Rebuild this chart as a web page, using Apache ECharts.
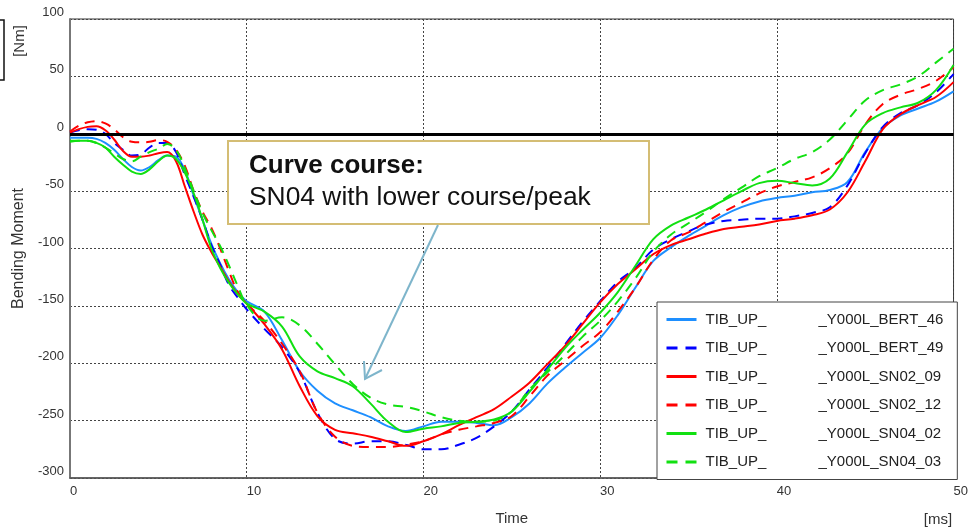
<!DOCTYPE html>
<html><head><meta charset="utf-8">
<script src="https://cdn.jsdelivr.net/npm/echarts/dist/echarts.min.js"></script>
<style>html,body{margin:0;padding:0;background:#fff}#c{width:971px;height:531px}</style>
</head><body><div id="c"></div>
<script>
// time axis [ms]
const times = [0,0.5,1,1.5,2,2.5,3,3.5,4,4.5,5,5.5,6,6.5,7,7.5,8,8.5,9,9.5,10,
  11,12,13,14,15,16,17,18,19,20,21,22,23,24,25,26,27,28,29,30,
  31,32,33,34,35,36,37,38,39,40,41,42,43,44,45,46,47,48,49,50];

const namePrefix = 'TIB_UP_';
const nameSuffixes = ['_Y000L_BERT_46','_Y000L_BERT_49','_Y000L_SN02_09','_Y000L_SN02_12','_Y000L_SN04_02','_Y000L_SN04_03'];

const bert46 = [-3.5,-3.5,-3.5,-4.5,-8,-14,-22,-29,-32,-29,-23,-19,-20,-32,-54,-75,-96,-113,-127,-138,-146,
  -155,-180,-207,-224,-235,-241,-247,-255,-259,-255,-251,-251,-252,-254,-247,-235,-218,-204,-191,-178,
  -158,-134,-111,-99,-89,-80,-71,-64,-59,-56,-54,-51,-49,-42,-16,5,16,22,28,37];
const bert49 = [1,3,4,3.5,0,-8,-14,-19,-18,-12,-8,-8,-16,-36,-55,-75,-97,-114,-132,-143,-153,
  -170,-186,-208,-243,-266,-270,-268,-268,-271,-275,-275,-271,-265,-255,-242,-223,-204,-184,-164,-146,
  -129,-117,-101,-92,-85,-79,-76,-75,-74,-74,-72,-69,-64,-45,-17,6,18,25,36,52];
const sn02_09 = [1,4,6,6.5,3,-5,-15,-20,-20,-19,-17,-16,-24,-46,-68,-88,-103,-116,-129,-140,-148,
  -166,-188,-220,-246,-258,-261,-264,-268,-272,-268,-262,-254,-247,-240,-229,-217,-201,-185,-166,-147,
  -131,-118,-105,-97,-92,-87,-83,-81,-79,-76,-74,-71,-66,-51,-24,4,17,25,32,45];
const sn02_12 = [2,7,10,11,9,4,-3,-7,-7.5,-7,-5.5,-7,-14,-28,-50,-68,-82,-100,-120,-138,-148,
  -163,-183,-207,-243,-264,-272,-273,-273,-271,-268,-262,-258,-255,-252,-246,-229,-211,-198,-185,-173,
  -155,-134,-110,-93,-86,-77,-68,-60,-52,-46,-42,-38,-30,-17,8,26,34,39,46,58];
const sn04_02 = [-6,-6,-6,-8,-12,-20,-27,-33,-35,-31,-24,-19,-22,-34,-52,-75,-100,-117,-130,-140,-148,
  -155,-168,-194,-207,-213,-220,-235,-251,-260,-257,-255,-252,-251,-249,-242,-225,-206,-187,-171,-156,
  -138,-115,-92,-80,-73,-66,-58,-50,-43,-41,-43,-45,-39,-16,8,18,23,27,38,60];
const sn04_03 = [-7,-6,-6,-8,-12,-17,-22,-24,-20,-16,-13,-9,-14,-30,-50,-69,-84,-98,-115,-133,-149,
  -163,-160,-167,-183,-201,-218,-230,-236,-238,-242,-247,-250,-251,-250,-242,-223,-208,-193,-177,-163,
  -146,-126,-103,-88,-78,-68,-57,-47,-37,-30,-22,-16,-5,12,29,38,43,50,62,74];

const seriesValues = [bert46, bert49, sn02_09, sn02_12, sn04_02, sn04_03];
const seriesColors = ['#1e8fff','#0000ff','#ff0000','#ff0000','#11e011','#11e011'];
const seriesDashed = [false, true, false, true, false, true];

const FONT = '"Liberation Sans", Arial, Helvetica, sans-serif';
const chart = echarts.init(document.getElementById('c'), null, {renderer:'canvas'});

const series = seriesValues.map((vals, k) => {
  const s = {
    name: namePrefix + nameSuffixes[k],
    type: 'line',
    data: times.map((t, i) => [t, vals[i]]),
    smooth: 0.35,
    symbol: 'none',
    showSymbol: false,
    z: 3,
    lineStyle: {color: seriesColors[k], width: 2, type: seriesDashed[k] ? [10, 7] : 'solid'},
    itemStyle: {color: seriesColors[k]}
  };
  if (k === 0) {
    s.markLine = {silent: true, symbol: ['none','none'], label: {show: false},
      lineStyle: {color: '#000', width: 3, type: 'solid'}, data: [{yAxis: 0}], animation: false};
  }
  return s;
});

const legendData = nameSuffixes.map((suf, k) => ({
  name: namePrefix + suf,
  lineStyle: {width: 3, type: seriesDashed[k] ? [11, 8] : 'solid'}
}));

const gridLine = {show: true, lineStyle: {color: '#444', type: [2, 2], width: 1}};

chart.setOption({
  animation: false,
  backgroundColor: '#fff',
  grid: {left: 70, right: 12, top: 19, bottom: 52, show: true, borderColor: '#333', borderWidth: 1},
  xAxis: {
    type: 'value', min: 0, max: 50, interval: 10,
    axisLine: {show: true, onZero: false, lineStyle: {color: '#555', width: 1.5}},
    axisTick: {show: false},
    axisLabel: {color: '#333', fontSize: 13, fontFamily: FONT, align: 'left', margin: 7},
    splitLine: gridLine,
    name: 'Time', nameLocation: 'middle', nameGap: 33,
    nameTextStyle: {color: '#333', fontSize: 15, fontFamily: FONT}
  },
  yAxis: {
    type: 'value', min: -300, max: 100, interval: 50,
    axisLine: {show: true, onZero: false, lineStyle: {color: '#777', width: 2}},
    axisTick: {show: false},
    axisLabel: {color: '#333', fontSize: 13, fontFamily: FONT, verticalAlign: 'bottom', margin: 6, lineHeight: 13},
    splitLine: gridLine,
    name: 'Bending Moment', nameLocation: 'middle', nameGap: 39, nameRotate: 90,
    nameTextStyle: {color: '#333', fontSize: 16, fontFamily: FONT}
  },
  legend: {
    data: legendData,
    left: 657, top: 302, orient: 'vertical', z: 20,
    backgroundColor: '#fff', borderColor: '#444', borderWidth: 1,
    padding: [10, 14, 10, 8],
    itemWidth: 30, itemHeight: 14, itemGap: 13.5,
    selectedMode: false,
    itemStyle: {opacity: 0, borderWidth: 0},
    lineStyle: {width: 3},
    formatter: function (name) {
      return '{a|' + namePrefix + '}{b|' + name.slice(namePrefix.length) + '}';
    },
    textStyle: {
      fontFamily: FONT, fontSize: 15, color: '#222', lineHeight: 14,
      rich: {
        a: {fontFamily: FONT, fontSize: 15, color: '#222', width: 113, lineHeight: 14, padding: [0, 0, 0, 4]},
        b: {fontFamily: FONT, fontSize: 15, color: '#222', lineHeight: 14}
      }
    }
  },
  graphic: [
    {type: 'rect', z: 50, shape: {x: -10, y: 20, width: 14, height: 60}, style: {fill: 'none', stroke: '#111', lineWidth: 1.5}},
    {type: 'text', z: 50, x: 20, y: 41, rotation: Math.PI / 2,
      style: {text: '[Nm]', font: '15px ' + FONT, fill: '#333', textAlign: 'center', textVerticalAlign: 'middle'}},
    {type: 'text', z: 50, x: 938, y: 520,
      style: {text: '[ms]', font: '15px ' + FONT, fill: '#333', textAlign: 'center', textVerticalAlign: 'middle'}},
    {type: 'rect', z: 60, shape: {x: 228, y: 141, width: 421, height: 83}, style: {fill: '#fff', stroke: '#d4bd74', lineWidth: 2}},
    {type: 'text', z: 61, x: 249, y: 166,
      style: {text: 'Curve course:', font: 'bold 26px ' + FONT, fill: '#111', textAlign: 'left', textVerticalAlign: 'middle'}},
    {type: 'text', z: 61, x: 249, y: 198,
      style: {text: 'SN04 with lower course/peak', font: '26.4px ' + FONT, fill: '#111', textAlign: 'left', textVerticalAlign: 'middle'}},
    {type: 'line', z: 62, shape: {x1: 438, y1: 225, x2: 365, y2: 379}, style: {stroke: '#7eb5cb', lineWidth: 2}},
    {type: 'polyline', z: 62, shape: {points: [[364, 361], [365, 379], [382, 370]]}, style: {stroke: '#7eb5cb', lineWidth: 2, fill: 'none'}}
  ],
  series: series
});
</script>
</body></html>
